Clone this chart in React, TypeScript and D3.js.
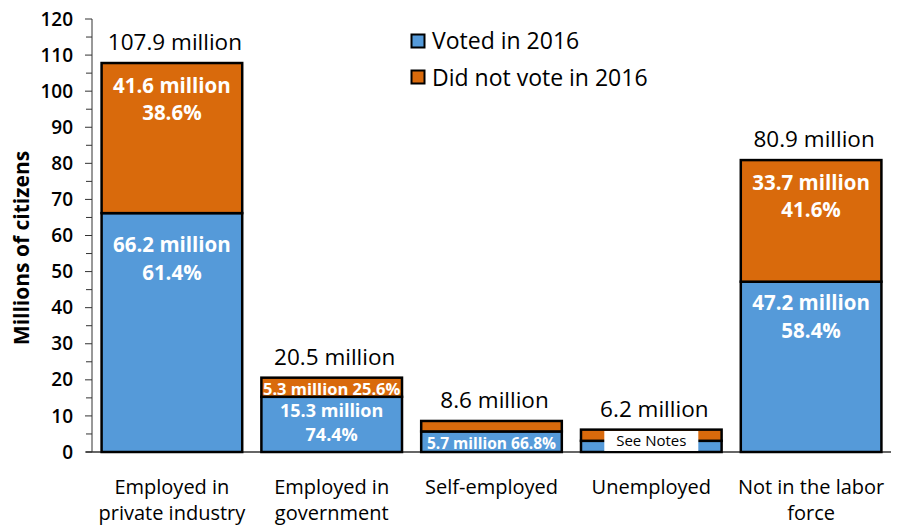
import React from "react";
import * as d3 from "d3";

const categories = ["Employed in\nprivate industry", "Employed in\ngovernment", "Self-employed", "Unemployed", "Not in the labor\nforce"];
const voted = [66.2, 15.3, 5.7, 3.1, 47.2];
const notVoted = [41.6, 5.3, 2.9, 3.1, 33.7];
const totalLabels = ["107.9 million", "20.5 million", "8.6 million", "6.2 million", "80.9 million"];
const votedLabels = [["66.2 million", "61.4%"], ["15.3 million", "74.4%"], ["5.7 million 66.8%"], [], ["47.2 million", "58.4%"]];
const notVotedLabels = [["41.6 million", "38.6%"], ["5.3 million 25.6%"], [], [], ["33.7 million", "41.6%"]];
const seriesNames = ["Voted in 2016", "Did not vote in 2016"];
const yTicks = [0, 10, 20, 30, 40, 50, 60, 70, 80, 90, 100, 110, 120];

const W = 903, H = 527;
const BLUE = "#559ad9";
const ORANGE = "#d96a0c";
const FONT = "'Open Sans', 'Noto Sans', sans-serif";

export default function App() {
  const x = d3.scaleBand<string>().domain(categories).range([92, 891]).paddingInner(0.12).paddingOuter(0.06);
  const y = d3.scaleLinear().domain([0, 120]).range([452, 19]);
  const minor = d3.range(5, 120, 10);

  return (
    <svg width={W} height={H} style={{ position: "absolute", left: 0, top: 0, background: "#fff" }} fontFamily={FONT}>
      {/* y axis */}
      <line x1={92} x2={92} y1={y(120)} y2={y(0)} stroke="#333" strokeWidth={1} />
      <line x1={86} x2={891} y1={y(0)} y2={y(0)} stroke="#333" strokeWidth={1.3} />
      {yTicks.map((t) => (
        <g key={t}>
          <line x1={85} x2={92} y1={y(t)} y2={y(t)} stroke="#333" strokeWidth={1} />
          <text x={73} y={y(t)} dy="0.35em" textAnchor="end" fontSize={19} fontWeight={600} fill="#000">{t}</text>
        </g>
      ))}
      {minor.map((t) => (
        <line key={t} x1={86} x2={92} y1={y(t)} y2={y(t)} stroke="#333" strokeWidth={1} />
      ))}
      <text transform={`translate(22,${248}) rotate(-90)`} dy="0.35em" textAnchor="middle" fontSize={21} fontWeight={700}>Millions of citizens</text>

      {/* bars */}
      {categories.map((c, i) => {
        const x0 = x(c)!;
        const bw = x.bandwidth();
        const cx = x0 + bw / 2;
        const v = voted[i], n = notVoted[i];
        const yb = y(v), yt = y(v + n);
        const small = (v + n) < 25;
        const vStart = yb + (small ? 14 : (v > 60 ? 32 : 21));
        const vGap = small ? 24 : 28;
        return (
          <g key={c}>
            <rect x={x0} y={yb} width={bw} height={y(0) - yb} fill={BLUE} stroke="#000" strokeWidth={2.5} />
            <rect x={x0} y={yt} width={bw} height={yb - yt} fill={ORANGE} stroke="#000" strokeWidth={2.5} />
            {votedLabels[i].length === 2 && (
              <text textAnchor="middle" fill="#fff" fontWeight={700} fontSize={small ? 18 : 20.5}>
                {votedLabels[i].map((s, k) => (
                  <tspan key={k} x={cx} y={vStart + k * vGap} dy="0.35em">{s}</tspan>
                ))}
              </text>
            )}
            {votedLabels[i].length === 1 && (
              <text x={cx} y={(yb + y(0)) / 2 + 2} dy="0.35em" textAnchor="middle" fill="#fff" fontWeight={700} fontSize={15.5}>{votedLabels[i][0]}</text>
            )}
            {notVotedLabels[i].length === 2 && (
              <text textAnchor="middle" fill="#fff" fontWeight={700} fontSize={20.5}>
                {notVotedLabels[i].map((s, k) => (
                  <tspan key={k} x={cx} y={yt + 22.5 + k * 27.5} dy="0.35em">{s}</tspan>
                ))}
              </text>
            )}
            {notVotedLabels[i].length === 1 && (
              <text x={cx} y={(yb + yt) / 2 + 2} dy="0.35em" textAnchor="middle" fill="#fff" fontWeight={700} fontSize={16.5}>{notVotedLabels[i][0]}</text>
            )}
            <text x={cx + 3} y={yt - 21} dy="0.35em" textAnchor="middle" fontSize={22.5} fontWeight={500} fill="#000">{totalLabels[i]}</text>
            <text textAnchor="middle" fontSize={20} fontWeight={500} fill="#000">
              {c.split("\n").map((s, k) => (
                <tspan key={k} x={cx} y={487 + k * 26} dy="0.35em">{s}</tspan>
              ))}
            </text>
            {i === 3 && (
              <g>
                <rect x={cx - 47} y={431} width={94} height={20} fill="#fff" />
                <text x={cx} y={441} dy="0.35em" textAnchor="middle" fontSize={15} fontWeight={500} fill="#000">See Notes</text>
              </g>
            )}
          </g>
        );
      })}

      {/* legend */}
      {seriesNames.map((s, i) => (
        <g key={s}>
          <rect x={411.5} y={34.5 + i * 36} width={13} height={13} fill={i === 0 ? BLUE : ORANGE} stroke="#000" strokeWidth={2} />
          <text x={432} y={41 + i * 37} dy="0.35em" fontSize={23} fontWeight={500} fill="#000">{s}</text>
        </g>
      ))}
    </svg>
  );
}
